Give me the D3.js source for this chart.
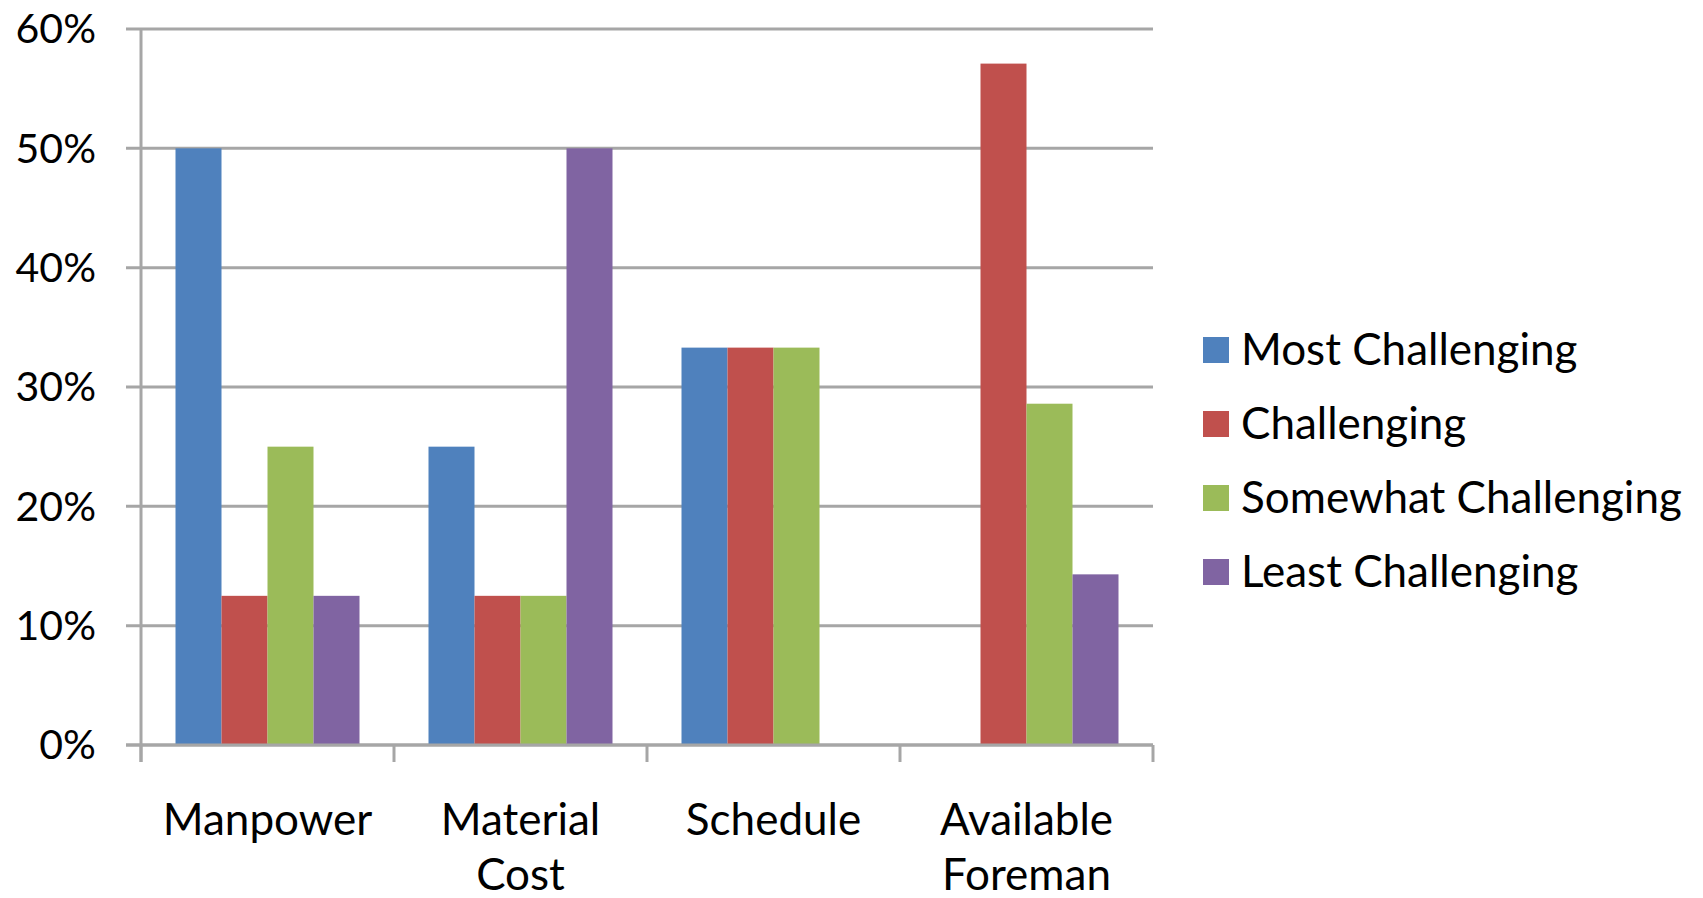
<!DOCTYPE html>
<html>
<head>
<meta charset="utf-8">
<script src="https://cdn.jsdelivr.net/npm/d3@7"></script>
<style>
  html, body { margin: 0; padding: 0; background: #fff; }
  svg { display: block; }
  text { font-family: Lato, "Open Sans", sans-serif; fill: #000; }
</style>
</head>
<body>
<svg id="chart" width="1703" height="898"></svg>
<script>
// Survey results: share of responses per challenge level
const categories = [["Manpower"], ["Material", "Cost"], ["Schedule"], ["Available", "Foreman"]];
const seriesNames = ["Most Challenging", "Challenging", "Somewhat Challenging", "Least Challenging"];
const seriesColors = ["#4F81BD", "#C0504D", "#9BBB59", "#8064A2"];
const mostChallenging = [50, 25, 33.3, 0];
const challenging = [12.5, 12.5, 33.3, 57.1];
const somewhatChallenging = [25, 12.5, 33.3, 28.6];
const leastChallenging = [12.5, 50, 0, 14.3];
const yTicks = [0, 10, 20, 30, 40, 50, 60];

const series = [mostChallenging, challenging, somewhatChallenging, leastChallenging];
const catKeys = categories.map(c => c.join(" "));

const svg = d3.select("#chart");
const margin = { left: 141, right: 1153, top: 29, bottom: 745 };
const gridColor = "#a6a6a6";

const x = d3.scaleBand()
  .domain(catKeys)
  .range([margin.left, margin.right])
  .paddingInner(0)
  .paddingOuter(0);

const y = d3.scaleLinear().domain([0, 60]).range([margin.bottom, margin.top]);

// Horizontal gridlines (with short tick stubs on the left)
svg.append("g").selectAll("line")
  .data(yTicks)
  .join("line")
  .attr("x1", margin.left - 15)
  .attr("x2", margin.right)
  .attr("y1", d => y(d))
  .attr("y2", d => y(d))
  .attr("stroke", gridColor)
  .attr("stroke-width", 3);

// Vertical value axis
svg.append("line")
  .attr("x1", margin.left).attr("x2", margin.left)
  .attr("y1", y(60)).attr("y2", y(0) + 17)
  .attr("stroke", gridColor).attr("stroke-width", 3);

// Category boundary ticks below the axis
const boundaries = catKeys.map(k => x(k) + x.bandwidth()).concat([margin.left]);
svg.append("g").selectAll("line")
  .data(boundaries)
  .join("line")
  .attr("x1", d => d).attr("x2", d => d)
  .attr("y1", y(0)).attr("y2", y(0) + 17)
  .attr("stroke", gridColor).attr("stroke-width", 3);

// Bars: four per group, with a gap of 1.5 bar widths between groups
const bw = x.bandwidth() / (series.length + 1.5);
const groupOffset = 0.75 * bw;
series.forEach((vals, si) => {
  svg.append("g").selectAll("rect")
    .data(vals.map((v, i) => ({ v, cat: catKeys[i] })))
    .join("rect")
    .filter(d => d.v > 0)
    .attr("x", d => x(d.cat) + groupOffset + si * bw)
    .attr("width", bw)
    .attr("y", d => y(d.v))
    .attr("height", d => y(0) - y(d.v))
    .attr("fill", seriesColors[si]);
});

// Redraw baseline over bar bottoms
svg.append("line")
  .attr("x1", margin.left - 15).attr("x2", margin.right)
  .attr("y1", y(0)).attr("y2", y(0))
  .attr("stroke", gridColor).attr("stroke-width", 3);

// Y tick labels
svg.append("g").selectAll("text")
  .data(yTicks)
  .join("text")
  .attr("x", 96)
  .attr("y", d => y(d))
  .attr("dy", "0.35em")
  .attr("text-anchor", "end")
  .attr("font-size", 41)
  .text(d => d + "%");

// Category labels (multi-line)
const catG = svg.append("g").selectAll("text")
  .data(categories)
  .join("text")
  .attr("text-anchor", "middle")
  .attr("font-size", 44)
  .attr("transform", (d, i) => `translate(${x(catKeys[i]) + x.bandwidth() / 2},835)`);
catG.selectAll("tspan")
  .data(d => d)
  .join("tspan")
  .attr("x", 0)
  .attr("dy", (d, i) => i === 0 ? 0 : 55)
  .text(d => d);

// Legend
const legend = svg.append("g").selectAll("g")
  .data(seriesNames)
  .join("g")
  .attr("transform", (d, i) => `translate(1203,${350 + i * 74})`);
legend.append("rect")
  .attr("x", 0).attr("y", -13)
  .attr("width", 26).attr("height", 26)
  .attr("fill", (d, i) => seriesColors[i]);
legend.append("text")
  .attr("x", 38)
  .attr("dy", "0.35em")
  .attr("font-size", 44)
  .text(d => d);
</script>
</body>
</html>
